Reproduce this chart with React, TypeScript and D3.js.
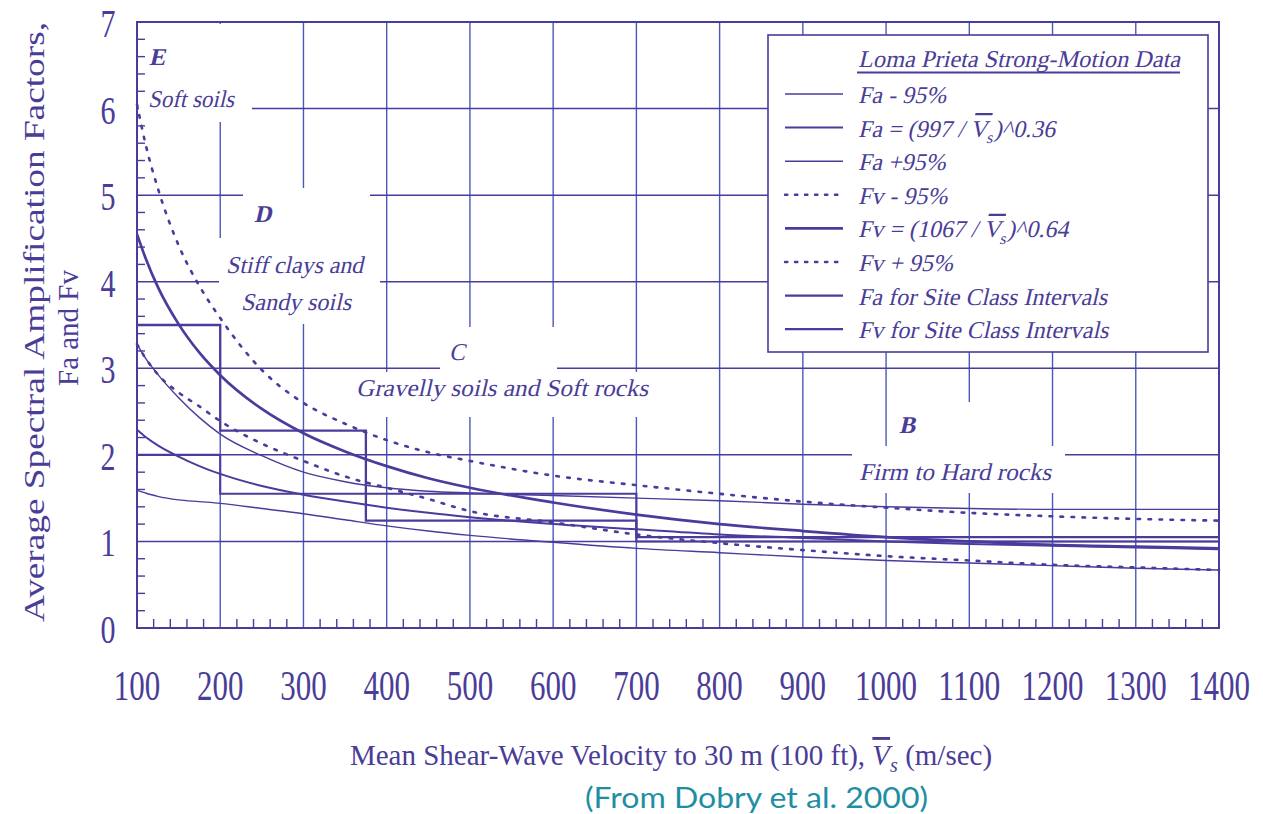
import React from 'react';
import * as d3 from 'd3';

// ---------- data ----------
const VS = [100, 110, 125, 150, 175, 200, 250, 300, 350, 400, 450, 500, 600, 700, 800, 900, 1000, 1100, 1200, 1300, 1400];
const FA_LOW = [1.59, 1.56, 1.52, 1.48, 1.46, 1.44, 1.38, 1.32, 1.25, 1.18, 1.12, 1.07, 0.99, 0.92, 0.87, 0.82, 0.78, 0.75, 0.72, 0.69, 0.67];
const FA_MEAN = [2.29, 2.21, 2.11, 1.98, 1.87, 1.78, 1.64, 1.54, 1.46, 1.39, 1.33, 1.28, 1.2, 1.14, 1.08, 1.04, 1.0, 0.97, 0.95, 0.93, 0.91];
const FA_HIGH = [3.28, 3.12, 2.93, 2.66, 2.43, 2.24, 1.99, 1.8, 1.69, 1.62, 1.58, 1.56, 1.53, 1.5, 1.47, 1.43, 1.4, 1.38, 1.37, 1.37, 1.37];
const FV_LOW = [3.28, 3.12, 2.93, 2.72, 2.56, 2.39, 2.13, 1.93, 1.75, 1.62, 1.49, 1.35, 1.22, 1.08, 0.98, 0.9, 0.83, 0.78, 0.73, 0.7, 0.67];
const FV_MEAN = [4.55, 4.28, 3.94, 3.51, 3.18, 2.92, 2.53, 2.25, 2.04, 1.87, 1.73, 1.62, 1.45, 1.31, 1.2, 1.12, 1.05, 1.0, 0.96, 0.94, 0.92];
const FV_HIGH = [6.05, 5.6, 5.08, 4.42, 3.95, 3.58, 2.98, 2.6, 2.36, 2.17, 2.03, 1.93, 1.76, 1.65, 1.55, 1.46, 1.39, 1.33, 1.29, 1.26, 1.24];

const CLASS_BOUNDS = [100, 200, 375, 700, 1400];
const FA_CLASS = [2.0, 1.55, 1.55, 1.0];
const FV_CLASS = [3.5, 2.28, 1.24, 1.05];

const X_TICKS = [100, 200, 300, 400, 500, 600, 700, 800, 900, 1000, 1100, 1200, 1300, 1400];
const Y_TICKS = [0, 1, 2, 3, 4, 5, 6, 7];

const LEGEND_TITLE = 'Loma Prieta Strong-Motion Data';
const LEGEND_LABELS = [
  'Fa - 95%',
  'Fa = (997 / {V})^0.36',
  'Fa +95%',
  'Fv - 95%',
  'Fv = (1067 / {V})^0.64',
  'Fv + 95%',
  'Fa for Site Class Intervals',
  'Fv for Site Class Intervals',
];

const X_TITLE_A = 'Mean Shear-Wave Velocity to 30 m (100 ft), ';
const X_TITLE_B = ' (m/sec)';
const Y_TITLE_1 = 'Average Spectral Amplification Factors,';
const Y_TITLE_2 = 'Fa and Fv';
const SOURCE = '(From Dobry et al. 2000)';

// ---------- styling ----------
const W = 1263;
const H = 814;
const INK = '#4a3b9c';
const GRID = '#4b58bb';
const TEXT = '#4a3d97';
const SERIF = 'Liberation Serif';
const SKEW = -13;

const x = d3.scaleLinear().domain([100, 1400]).range([137, 1219]);
const y = d3.scaleLinear().domain([0, 7]).range([628, 22]);

const curvePath = (vals: number[]) =>
  d3
    .line<number>()
    .x((_, i) => x(VS[i]))
    .y((d) => y(d))
    .curve(d3.curveMonotoneX)(vals) as string;

const stepPath = (vals: number[]) => {
  const pts: [number, number][] = vals.map((v, i) => [CLASS_BOUNDS[i], v]);
  pts.push([CLASS_BOUNDS[vals.length], vals[vals.length - 1]]);
  return d3
    .line<[number, number]>()
    .x((d) => x(d[0]))
    .y((d) => y(d[1]))
    .curve(d3.curveStepAfter)(pts) as string;
};

type LineStyle = { w: number; dash?: string };
const STYLES: LineStyle[] = [
  { w: 1.4 },
  { w: 2.0 },
  { w: 1.4 },
  { w: 2.6, dash: '2.6 8.4' },
  { w: 2.7 },
  { w: 2.6, dash: '2.6 8.4' },
  { w: 2.1 },
  { w: 2.3 },
];
const SERIES = [FA_LOW, FA_MEAN, FA_HIGH, FV_LOW, FV_MEAN, FV_HIGH];

function VsLabel({ text, size }: { text: string; size: number }) {
  const parts = text.split('{V}');
  if (parts.length === 1) return <>{text}</>;
  return (
    <>
      <tspan>{parts[0]}</tspan>
      <tspan style={{ textDecoration: 'overline' }}>V</tspan>
      <tspan dy={size * 0.28} fontSize={size * 0.68}>
        s
      </tspan>
      <tspan dy={-size * 0.28}>{parts[1]}</tspan>
    </>
  );
}

// serif italic drawn as a slanted upright serif
function Ital({
  x0,
  y0,
  size,
  bold,
  len,
  children,
}: {
  x0: number;
  y0: number;
  size: number;
  bold?: boolean;
  len?: number;
  children: React.ReactNode;
}) {
  return (
    <text
      transform={`translate(${x0},${y0}) skewX(${SKEW})`}
      fontFamily={SERIF}
      fontWeight={bold ? 'bold' : 'normal'}
      fontSize={size}
      fill={TEXT}
      textLength={len}
      lengthAdjust={len ? 'spacingAndGlyphs' : undefined}
    >
      {children}
    </text>
  );
}

export default function App() {
  const minorX = d3.range(120, 1400, 20).filter((v) => v % 100 !== 0);
  const minorY = d3.range(1, 35).map((k) => k * 0.2).filter((v) => Math.abs(v - Math.round(v)) > 0.01);

  const whiteBoxes = [
    { x0: 139, y0: 24, x1: 252, y1: 122 },
    { x0: 243, y0: 188, x1: 370, y1: 240 },
    { x0: 219, y0: 238, x1: 380, y1: 324 },
    { x0: 440, y0: 327, x1: 557, y1: 380 },
    { x0: 352, y0: 372, x1: 650, y1: 417 },
    { x0: 890, y0: 402, x1: 1050, y1: 447 },
    { x0: 852, y0: 446, x1: 1065, y1: 493 },
  ];

  const zoneText = [
    { t: 'E', x: 149, y: 65, bold: true },
    { t: 'Soft soils', x: 148, y: 107, len: 86 },
    { t: 'D', x: 254, y: 222, bold: true },
    { t: 'Stiff clays and', x: 226, y: 273, len: 137 },
    { t: 'Sandy soils', x: 241, y: 310, len: 110 },
    { t: 'C', x: 449, y: 360 },
    { t: 'Gravelly soils and Soft rocks', x: 356, y: 396, len: 292 },
    { t: 'B', x: 899, y: 433, bold: true },
    { t: 'Firm to Hard rocks', x: 859, y: 480, len: 192 },
  ];

  const legX0 = 768, legY0 = 35, legX1 = 1208, legY1 = 352;

  return (
    <svg
      width={W}
      height={H}
      viewBox={`0 0 ${W} ${H}`}
      style={{ position: 'absolute', left: 0, top: 0, background: '#fff' }}
    >
      <rect x={0} y={0} width={W} height={H} fill="#fff" />

      {/* grid */}
      {X_TICKS.slice(1, -1).map((v) => (
        <line key={'gx' + v} x1={x(v)} x2={x(v)} y1={y(7)} y2={y(0)} stroke={GRID} strokeWidth={1.4} />
      ))}
      {Y_TICKS.slice(1, -1).map((v) => (
        <line key={'gy' + v} x1={x(100)} x2={x(1400)} y1={y(v)} y2={y(v)} stroke={INK} strokeWidth={1.5} />
      ))}

      {/* white label backgrounds */}
      {whiteBoxes.map((b, i) => (
        <rect key={'wb' + i} x={b.x0} y={b.y0} width={b.x1 - b.x0} height={b.y1 - b.y0} fill="#fff" />
      ))}

      {/* minor ticks */}
      {minorX.map((v) => (
        <line key={'mx' + v} x1={x(v)} x2={x(v)} y1={y(0)} y2={y(0) - 9} stroke={INK} strokeWidth={1.4} />
      ))}
      {minorY.map((v) => (
        <line key={'my' + v} x1={x(100)} x2={x(100) + 8} y1={y(v)} y2={y(v)} stroke={INK} strokeWidth={1.4} />
      ))}

      {/* curves */}
      {SERIES.map((vals, i) => (
        <path
          key={'s' + i}
          d={curvePath(vals)}
          fill="none"
          stroke={INK}
          strokeWidth={STYLES[i].w}
          strokeDasharray={STYLES[i].dash}
          strokeLinecap={STYLES[i].dash ? 'round' : 'butt'}
        />
      ))}
      <path d={stepPath(FA_CLASS)} fill="none" stroke={INK} strokeWidth={STYLES[6].w} />
      <path d={stepPath(FV_CLASS)} fill="none" stroke={INK} strokeWidth={STYLES[7].w} />

      {/* frame */}
      <rect x={x(100)} y={y(7)} width={x(1400) - x(100)} height={y(0) - y(7)} fill="none" stroke={INK} strokeWidth={2} />

      {/* zone labels */}
      {zoneText.map((z, i) => (
        <Ital key={'z' + i} x0={z.x} y0={z.y} size={24} bold={z.bold} len={z.len}>
          {z.t}
        </Ital>
      ))}

      {/* legend */}
      <rect x={legX0} y={legY0} width={legX1 - legX0} height={legY1 - legY0} fill="#fff" stroke={INK} strokeWidth={1.6} />
      <Ital x0={858} y0={67} size={24} len={322}>
        {LEGEND_TITLE}
      </Ital>
      <line x1={857} x2={1180} y1={72.5} y2={72.5} stroke={INK} strokeWidth={2} />
      {LEGEND_LABELS.map((lab, i) => {
        const ly = 94 + i * 33.6;
        const st = STYLES[i];
        return (
          <g key={'lg' + i}>
            <line
              x1={785}
              x2={843}
              y1={ly}
              y2={ly}
              stroke={INK}
              strokeWidth={st.dash ? 2.4 : st.w}
              strokeDasharray={st.dash ? '2.4 7.6' : undefined}
              strokeLinecap={st.dash ? 'round' : 'butt'}
            />
            <Ital x0={858} y0={ly + 9} size={24}>
              <VsLabel text={lab} size={24} />
            </Ital>
          </g>
        );
      })}

      {/* tick labels */}
      {X_TICKS.map((v) => (
        <text
          key={'xl' + v}
          transform={`translate(${x(v)},700) scale(1,1.35)`}
          textAnchor="middle"
          fontFamily={SERIF}
          fontSize={31}
          fill={TEXT}
          textLength={String(v).length * 15.5}
          lengthAdjust="spacingAndGlyphs"
        >
          {v}
        </text>
      ))}
      {Y_TICKS.map((v) => (
        <text
          key={'yl' + v}
          transform={`translate(108,${y(v) + 15}) scale(1,1.35)`}
          textAnchor="middle"
          fontFamily={SERIF}
          fontSize={30}
          fill={TEXT}
        >
          {v}
        </text>
      ))}

      {/* axis titles */}
      <text x={671} y={765} textAnchor="middle" fontFamily={SERIF} fontSize={29} fill={TEXT}>
        <tspan>{X_TITLE_A}</tspan>
        <tspan fontStyle="italic" style={{ textDecoration: 'overline' }}>V</tspan>
        <tspan fontStyle="italic" dy={7} fontSize={20}>
          s
        </tspan>
        <tspan dy={-7}>{X_TITLE_B}</tspan>
      </text>
      <text
        transform="translate(44,322) rotate(-90)"
        textAnchor="middle"
        fontFamily={SERIF}
        fontSize={30}
        fill={TEXT}
        textLength={600}
        lengthAdjust="spacingAndGlyphs"
      >
        {Y_TITLE_1}
      </text>
      <text
        transform="translate(78,328) rotate(-90)"
        textAnchor="middle"
        fontFamily={SERIF}
        fontSize={30}
        fill={TEXT}
        textLength={116}
        lengthAdjust="spacingAndGlyphs"
      >
        {Y_TITLE_2}
      </text>

      {/* source */}
      <text
        x={585}
        y={808}
        fontFamily="Lato, 'Open Sans', sans-serif"
        fontSize={29}
        fill="#1f8ea3"
        textLength={343}
        lengthAdjust="spacingAndGlyphs"
      >
        {SOURCE}
      </text>
    </svg>
  );
}
